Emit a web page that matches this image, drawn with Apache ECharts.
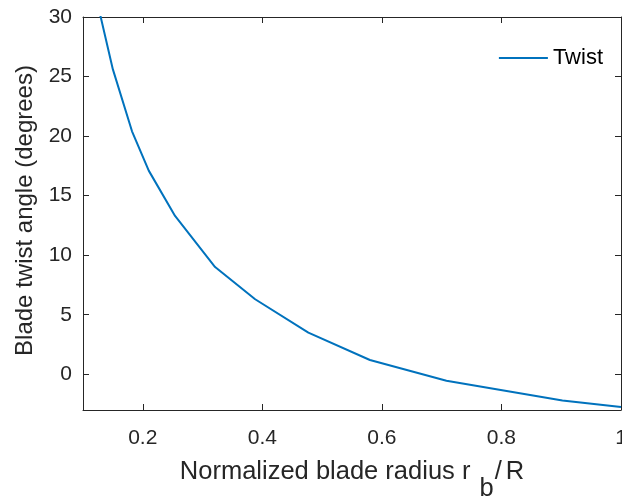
<!DOCTYPE html>
<html>
<head>
<meta charset="utf-8">
<script src="https://cdn.jsdelivr.net/npm/echarts@6/dist/echarts.min.js"></script>
<style>html,body{margin:0;padding:0;background:#fff;}#c{width:622px;height:496px;}</style>
</head>
<body>
<div id="c"></div>
<script>
const radius = [0.125, 0.15, 0.182, 0.21, 0.254, 0.321, 0.388, 0.477, 0.58, 0.708, 0.902, 1.0];
const twist = [31.0, 25.6, 20.4, 17.1, 13.3, 9.0, 6.3, 3.5, 1.2, -0.55, -2.2, -2.75];
const xTicks = [0.2, 0.4, 0.6, 0.8, 1];
const yTicks = [0, 5, 10, 15, 20, 25, 30];
const seriesName = 'Twist';

const FONT = "'Liberation Sans', Arial, Helvetica, sans-serif";
const AX = '#262626';
const chart = echarts.init(document.getElementById('c'), null, {renderer: 'canvas'});
const axisLineStyle = {show: true, onZero: false, lineStyle: {color: AX, width: 1}};
const tickStyle = (vals) => ({show: true, inside: true, length: 6, customValues: vals, lineStyle: {color: AX, width: 1}});
chart.setOption({
  animation: false,
  backgroundColor: '#fff',
  grid: {left: 83, top: 17, width: 538, height: 393, containLabel: false, outerBoundsMode: 'none'},
  legend: {
    data: [seriesName], right: 19, top: 47, padding: 0, icon: 'rect', itemWidth: 49, itemHeight: 2, itemGap: 5,
    textStyle: {fontFamily: FONT, fontSize: 22, color: '#000'}
  },
  xAxis: [{
    type: 'value', min: 0.1, max: 1, position: 'bottom',
    axisLine: axisLineStyle, splitLine: {show: false},
    axisTick: tickStyle(xTicks),
    axisLabel: {customValues: xTicks, margin: 18, fontFamily: FONT, fontSize: 21, color: AX,
      formatter: v => (Math.abs(v - 1) < 1e-9 ? '1' : v.toFixed(1))},
    name: '{a|Normalized blade radius r }{b|b}{s|/}{a|R}', nameLocation: 'middle', nameGap: 49,
    nameTextStyle: {rich: {
      a: {fontFamily: FONT, fontSize: 25.5, color: AX, verticalAlign: 'top', lineHeight: 25},
      b: {fontFamily: FONT, fontSize: 25.5, color: AX, verticalAlign: 'top', lineHeight: 25, padding: [17, 0, 0, 2]},
      s: {fontFamily: FONT, fontSize: 25.5, color: AX, verticalAlign: 'top', lineHeight: 25, padding: [0, 4, 0, 1]}
    }}
  }, {
    type: 'value', min: 0.1, max: 1, position: 'top',
    axisLine: axisLineStyle, splitLine: {show: false},
    axisTick: tickStyle(xTicks), axisLabel: {show: false}
  }],
  yAxis: [{
    type: 'value', min: -3, max: 30, position: 'left',
    axisLine: axisLineStyle, splitLine: {show: false},
    axisTick: tickStyle(yTicks),
    axisLabel: {customValues: yTicks, margin: 11, fontFamily: FONT, fontSize: 21, color: AX},
    name: 'Blade twist angle (degrees)', nameLocation: 'middle', nameGap: 41,
    nameTextStyle: {fontFamily: FONT, fontSize: 24, color: AX, padding: [0, 0, 0, 6]}
  }, {
    type: 'value', min: -3, max: 30, position: 'right',
    axisLine: axisLineStyle, splitLine: {show: false},
    axisTick: tickStyle(yTicks), axisLabel: {show: false}
  }],
  series: [{
    name: seriesName, type: 'line', xAxisIndex: 0, yAxisIndex: 0,
    data: radius.map((r, i) => [r, twist[i]]),
    showSymbol: false, symbol: 'none', clip: true,
    lineStyle: {color: '#0072BD', width: 2}, itemStyle: {color: '#0072BD'}
  }]
});
</script>
</body>
</html>
